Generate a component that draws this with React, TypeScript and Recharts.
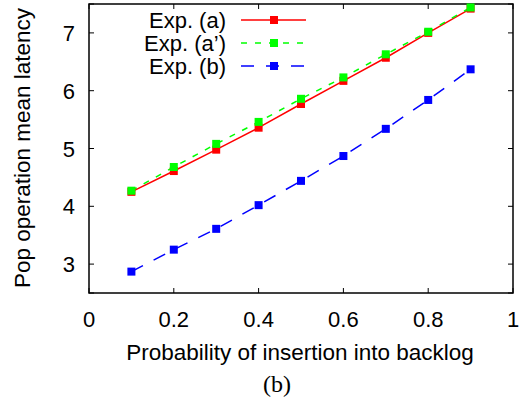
import React from 'react';
import { LineChart, Line, XAxis, YAxis, CartesianGrid } from 'recharts';

const probabilities = [0.1, 0.2, 0.3, 0.4, 0.5, 0.6, 0.7, 0.8, 0.9];
const expA = [4.25, 4.61, 4.98, 5.36, 5.77, 6.17, 6.57, 7.0, 7.42];
const expA2 = [4.27, 4.68, 5.08, 5.46, 5.86, 6.23, 6.63, 7.02, 7.44];
const expB = [2.87, 3.25, 3.61, 4.02, 4.44, 4.87, 5.34, 5.84, 6.37];

const xTicks = [0, 0.2, 0.4, 0.6, 0.8, 1];
const yTicks = [3, 4, 5, 6, 7];
const xDomain = [0, 1];
const yDomain = [2.5, 7.5];

const FONT = '"Liberation Sans", Arial, Helvetica, sans-serif';

const W = 524;
const H = 402;
const M = { top: 4, right: 11, left: 89, bottom: 109 };

const series = [
  { key: 'a', name: 'Exp. (a)', color: '#ff0000', dash: undefined as string | undefined },
  { key: 'a2', name: 'Exp. (a\u2019)', color: '#00ff00', dash: '6 8' },
  { key: 'b', name: 'Exp. (b)', color: '#0000ff', dash: '13 12' },
];

const data = probabilities.map((p, i) => ({ p, a: expA[i], a2: expA2[i], b: expB[i] }));

const TICK_LEN = 5;

const BottomTick = ({ x, y, payload }: any) => (
  <text x={x} y={y + 34} textAnchor="middle" fontSize={22} fontFamily={FONT} fill="#000">
    {String(payload.value)}
  </text>
);

const LeftTick = ({ x, y, payload }: any) => (
  <text x={x - 14} y={y + 8} textAnchor="end" fontSize={22} fontFamily={FONT} fill="#000">
    {String(payload.value)}
  </text>
);

// gnuplot-style inward ticks at both ends of each grid line
const VTickPair = (props: any) => {
  const { x1, y1, x2, y2 } = props;
  const top = Math.min(y1, y2);
  const bottom = Math.max(y1, y2);
  return (
    <g key={props.key}>
      <line x1={x1} y1={bottom} x2={x2} y2={bottom - TICK_LEN} stroke="#000" />
      <line x1={x1} y1={top} x2={x2} y2={top + TICK_LEN} stroke="#000" />
    </g>
  );
};

const HTickPair = (props: any) => {
  const { x1, y1, x2, y2 } = props;
  const left = Math.min(x1, x2);
  const right = Math.max(x1, x2);
  return (
    <g key={props.key}>
      <line x1={left} y1={y1} x2={left + TICK_LEN} y2={y2} stroke="#000" />
      <line x1={right} y1={y1} x2={right - TICK_LEN} y2={y2} stroke="#000" />
    </g>
  );
};

const SquareDot = (color: string) => (props: any) => {
  const { cx, cy, index } = props;
  if (cx == null || cy == null) return <g key={index} />;
  return <rect key={index} x={cx - 4} y={cy - 4} width={8} height={8} fill={color} />;
};

const LegendBox = () => (
  <g>
    {series.map((s, i) => {
      const cy = 20 + i * 23;
      return (
        <g key={s.key}>
          <text x={226} y={cy + 8} textAnchor="end" fontSize={22} fontFamily={FONT} fill="#000">
            {s.name}
          </text>
          <line x1={241} y1={cy} x2={306} y2={cy} stroke={s.color} strokeWidth={1.5} strokeDasharray={s.dash} />
          <rect x={270} y={cy - 4} width={8} height={8} fill={s.color} />
        </g>
      );
    })}
  </g>
);

export default function App() {
  return (
    <div style={{ position: 'absolute', left: 0, top: 0, width: W, height: H, background: '#fff' }}>
      <LineChart width={W} height={H} data={data} margin={{ top: M.top, right: M.right, left: 0, bottom: 0 }}>
        <CartesianGrid stroke="#000" horizontal={HTickPair} vertical={VTickPair} />
        <XAxis
          dataKey="p"
          type="number"
          domain={xDomain}
          ticks={xTicks}
          height={M.bottom}
          tickSize={0}
          tickMargin={0}
          tickLine={false}
          tick={<BottomTick />}
          axisLine={false}
        />
        <YAxis
          type="number"
          domain={yDomain}
          ticks={yTicks}
          width={M.left}
          tickSize={0}
          tickMargin={0}
          tickLine={false}
          tick={<LeftTick />}
          axisLine={false}
        />
        <rect
          x={M.left}
          y={M.top}
          width={W - M.left - M.right}
          height={H - M.top - M.bottom}
          fill="none"
          stroke="#000"
          strokeWidth={1.5}
        />
        {series.map((s) => (
          <Line
            key={s.key}
            type="linear"
            dataKey={s.key}
            name={s.name}
            stroke={s.color}
            strokeWidth={1.5}
            strokeDasharray={s.dash}
            dot={SquareDot(s.color)}
            activeDot={false}
            isAnimationActive={false}
          />
        ))}
        <LegendBox />
        <text
          x={24}
          y={148}
          transform="rotate(-90 24 148)"
          textAnchor="middle"
          dominantBaseline="middle"
          fontSize={22.5}
          fontFamily={FONT}
          fill="#000"
        >
          Pop operation mean latency
        </text>
        <text x={300} y={360} textAnchor="middle" fontSize={22.5} fontFamily={FONT} fill="#000">
          Probability of insertion into backlog
        </text>
        <text x={277} y={392} textAnchor="middle" fontSize={24} fontFamily='"Liberation Serif", "DejaVu Serif", serif' fill="#000">
          (b)
        </text>
      </LineChart>
    </div>
  );
}
